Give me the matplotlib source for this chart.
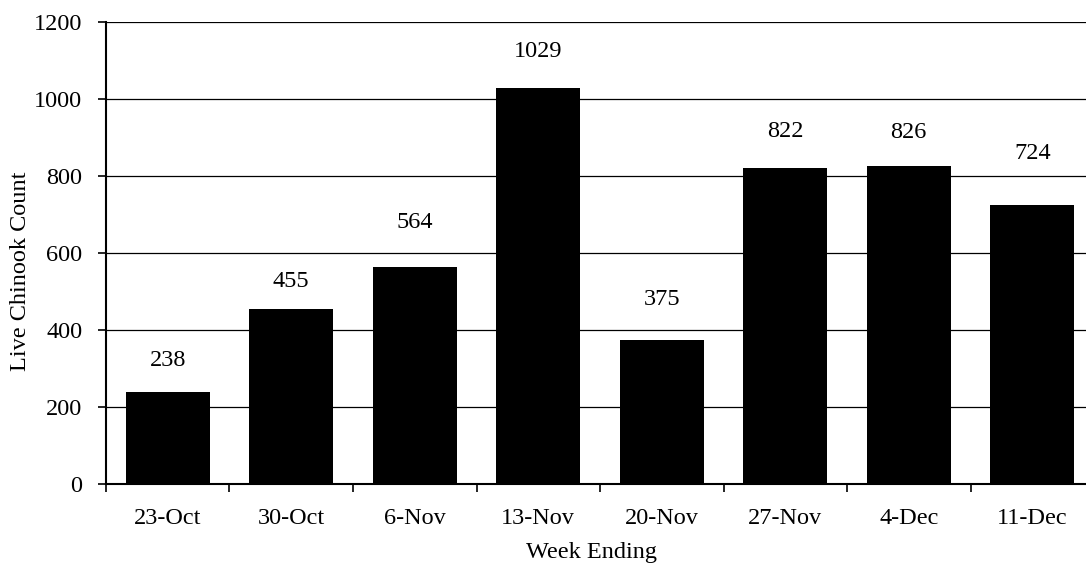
import matplotlib
matplotlib.use("Agg")
import matplotlib.pyplot as plt
import numpy as np

weeks = ["23-Oct", "30-Oct", "6-Nov", "13-Nov", "20-Nov", "27-Nov", "4-Dec", "11-Dec"]
counts = [238, 455, 564, 1029, 375, 822, 826, 724]
y_ticks = [0, 200, 400, 600, 800, 1000, 1200]

# vertical gap (points) between each bar top and the centre of its value label
label_gaps = [23, 20, 32, 26, 29, 26, 24, 37]

plt.rcParams["font.family"] = ["Liberation Serif", "DejaVu Serif"]
plt.rcParams["font.size"] = 17.5

fig = plt.figure(figsize=(10.86, 5.71), dpi=100)
ax = fig.add_axes([0.0976, 0.1524, 0.9098, 0.8091])

x = np.arange(len(weeks))
ax.bar(x, counts, width=0.68, color="black", zorder=3)
for xi, v, gap in zip(x, counts, label_gaps):
    ax.annotate(str(v), (xi, v), xytext=(0, gap), textcoords="offset points",
                ha="center", va="center")

ax.set_xlim(-0.5, len(weeks) - 0.5)
ax.set_ylim(0, 1200)
ax.set_yticks(y_ticks)
ax.yaxis.grid(True, color="black", linewidth=0.9, zorder=0)
ax.set_axisbelow(True)

ax.set_xticks(x)
ax.set_xticklabels(weeks)
ax.tick_params(axis="x", length=0, pad=17)
ax.set_xticks(np.arange(-0.5, len(weeks)), minor=True)
ax.tick_params(axis="x", which="minor", length=6, width=1.2, direction="out")
ax.tick_params(axis="y", length=6, width=1.2, direction="out", pad=11)

for side in ("top", "right"):
    ax.spines[side].set_visible(False)
for side in ("left", "bottom"):
    ax.spines[side].set_linewidth(1.5)

ax.set_xlabel("Week Ending", va="center")
ax.set_ylabel("Live Chinook Count", va="center")
ax.xaxis.set_label_coords(0.491, -0.149)
ax.yaxis.set_label_coords(-0.087, 0.461)

fig.savefig("out.png", dpi=100)
